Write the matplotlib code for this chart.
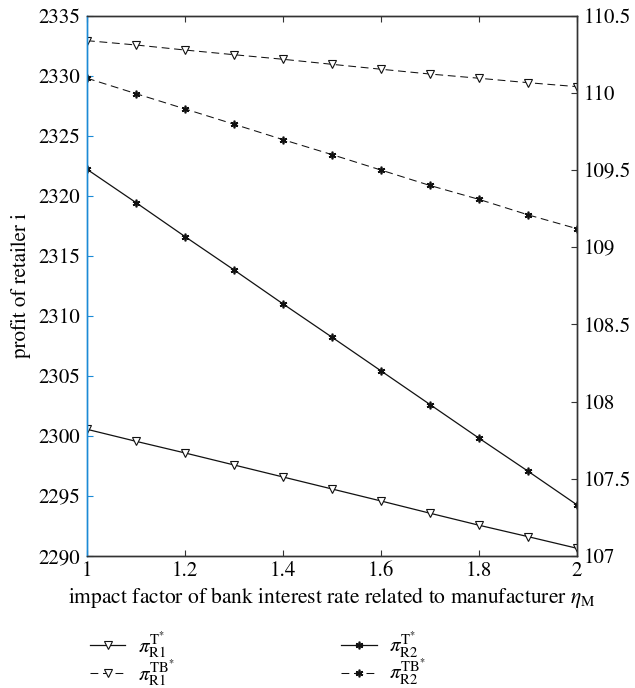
import matplotlib
matplotlib.use("Agg")
import matplotlib.pyplot as plt
import numpy as np
from matplotlib.ticker import FormatStrFormatter

# data
eta_m = [1.0, 1.1, 1.2, 1.3, 1.4, 1.5, 1.6, 1.7, 1.8, 1.9, 2.0]
pi_r1_t = [2300.55, 2299.55, 2298.58, 2297.58, 2296.58, 2295.58, 2294.58, 2293.56, 2292.56, 2291.61, 2290.64]
pi_r1_tb = [2332.92, 2332.56, 2332.14, 2331.75, 2331.37, 2330.95, 2330.54, 2330.14, 2329.79, 2329.42, 2329.09]
pi_r2_t = [109.505, 109.289, 109.069, 108.853, 108.633, 108.417, 108.199, 107.981, 107.763, 107.549, 107.331]
pi_r2_tb = [110.095, 109.995, 109.896, 109.797, 109.697, 109.600, 109.500, 109.400, 109.310, 109.210, 109.120]

left_ticks = [2290, 2295, 2300, 2305, 2310, 2315, 2320, 2325, 2330, 2335]
right_ticks = [107, 107.5, 108, 108.5, 109, 109.5, 110, 110.5]
x_ticks = [1, 1.2, 1.4, 1.6, 1.8, 2]

labels = [r"$\pi_{\rm R1}^{\rm T^{*}}$", r"$\pi_{\rm R1}^{\rm TB^{*}}$",
          r"$\pi_{\rm R2}^{\rm T^{*}}$", r"$\pi_{\rm R2}^{\rm TB^{*}}$"]

plt.rcParams["font.family"] = ["STIXGeneral", "DejaVu Serif"]
plt.rcParams["mathtext.fontset"] = "stix"

axis_col = "#333333"
blue = "#1b8ad6"
dash = (0, (7.5, 4.5))
star = (6, 2, 0)

fig = plt.figure(figsize=(6.35, 6.88), dpi=100)
ax = fig.add_axes([0.137, 0.1919, 0.7717, 0.7853])
ax2 = ax.twinx()

h1, = ax.plot(eta_m, pi_r1_t, color="#111111", lw=0.9, marker="v", ms=5.5,
              mfc="white", mec="#111111", mew=0.8, label=labels[0])
h2, = ax.plot(eta_m, pi_r1_tb, color="#111111", lw=0.75, ls=dash, marker="v", ms=5.5,
              mfc="white", mec="#111111", mew=0.8, label=labels[1])
h3, = ax2.plot(eta_m, pi_r2_t, color="#111111", lw=0.9, marker=star, ms=5.5,
               mec="#111111", mew=1.2, label=labels[2])
h4, = ax2.plot(eta_m, pi_r2_tb, color="#111111", lw=0.75, ls=dash, marker=star, ms=5.5,
               mec="#111111", mew=1.2, label=labels[3])

ax.set_xlim(1, 2)
ax.set_ylim(2290, 2335)
ax2.set_ylim(107, 110.5)
ax.set_xticks(x_ticks)
ax.set_yticks(left_ticks)
ax2.set_yticks(right_ticks)
ax.xaxis.set_major_formatter(FormatStrFormatter("%g"))
ax2.yaxis.set_major_formatter(FormatStrFormatter("%g"))

for a in (ax, ax2):
    for s in a.spines.values():
        s.set_color(axis_col)
        s.set_linewidth(1.0)
ax.spines["left"].set_color(blue)
ax2.spines["left"].set_color(blue)

ax.tick_params(axis="x", direction="in", length=4, labelsize=15, top=True,
               color=axis_col, pad=4)
ax.tick_params(axis="y", direction="in", length=4, labelsize=15, color=blue, pad=5)
ax2.tick_params(axis="y", direction="in", length=4, labelsize=15, color=axis_col, pad=5)

ax.set_xlabel(r"impact factor of bank interest rate related to manufacturer $\eta_{\rm M}$",
              fontsize=15.5, labelpad=3)
ax.set_ylabel("profit of retailer i", fontsize=15, labelpad=5)

fig.legend(handles=[h1, h2, h3, h4], loc="center left", bbox_to_anchor=(0.125, 0.042),
           ncol=2, frameon=False, fontsize=15, handlelength=1.7, handletextpad=0.6,
           columnspacing=8.0, labelspacing=-0.1, borderpad=0)

fig.savefig("out.png", dpi=100)
